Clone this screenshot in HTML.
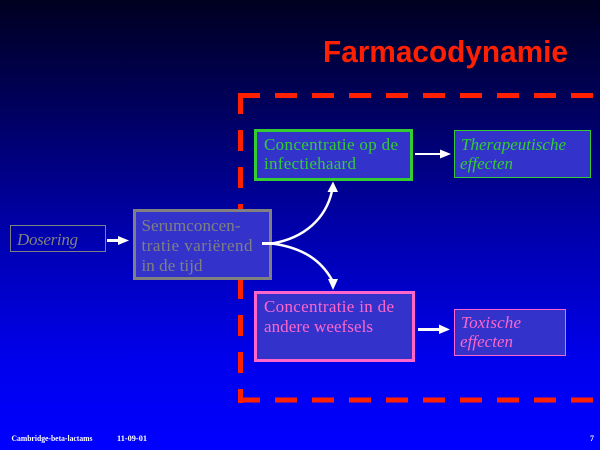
<!DOCTYPE html>
<html><head><meta charset="utf-8"><style>
html,body{margin:0;padding:0;width:600px;height:450px;overflow:hidden;background:#0000ff}
svg{display:block}
</style></head><body>
<svg width="600" height="450" viewBox="0 0 600 450" xmlns="http://www.w3.org/2000/svg">
<defs>
<linearGradient id="bg" x1="0" y1="0" x2="0" y2="1">
<stop offset="0" stop-color="#000020"/>
<stop offset="0.25" stop-color="#000060"/>
<stop offset="0.5" stop-color="#0000a8"/>
<stop offset="0.8" stop-color="#0000ec"/>
<stop offset="1" stop-color="#0000ff"/>
</linearGradient>
</defs>
<rect x="0" y="0" width="600" height="450" fill="url(#bg)"/>

<!-- title -->
<text x="323" y="62" font-family="Liberation Sans, Arial, sans-serif" font-weight="bold" font-size="31" fill="#ff2000" textLength="245" lengthAdjust="spacingAndGlyphs">Farmacodynamie</text>

<!-- dashed frame -->
<g stroke="#ff2000" stroke-width="5" fill="none">
<line x1="238" y1="95.5" x2="610" y2="95.5" stroke-dasharray="22 15"/>
<line x1="240.5" y1="93" x2="240.5" y2="403" stroke-dasharray="21 16"/>
<line x1="238" y1="400" x2="610" y2="400" stroke-dasharray="22 15"/>
</g>

<!-- Dosering -->
<rect x="10.5" y="225.5" width="95" height="26" fill="none" stroke="#808080" stroke-width="1"/>
<text x="17" y="245" font-family="Liberation Serif, Times New Roman, serif" font-style="italic" font-size="17" fill="#808080" textLength="61" lengthAdjust="spacing">Dosering</text>

<!-- arrow dosering -> serum -->
<rect x="107" y="239" width="12" height="3" fill="#fff"/>
<polygon points="118,236 129,240.5 118,245" fill="#fff"/>

<!-- Serum box -->
<rect x="134.5" y="210.5" width="136" height="68" fill="#3333cc" stroke="#808080" stroke-width="3"/>
<g font-family="Liberation Serif, Times New Roman, serif" font-size="17" fill="#808080">
<text x="141.5" y="231" textLength="99" lengthAdjust="spacing">Serumconcen-</text>
<text x="141.5" y="251" textLength="111" lengthAdjust="spacing">tratie variërend</text>
<text x="141.5" y="271" textLength="61" lengthAdjust="spacing">in de tijd</text>
</g>

<!-- Green box -->
<rect x="255.5" y="130.5" width="156" height="49" fill="#3333cc" stroke="#33cc33" stroke-width="3"/>
<g font-family="Liberation Serif, Times New Roman, serif" font-size="17" fill="#33cc33">
<text x="264" y="150" textLength="134" lengthAdjust="spacing">Concentratie op de</text>
<text x="264" y="169" textLength="92" lengthAdjust="spacing">infectiehaard</text>
</g>

<!-- arrow -> therapeutische -->
<rect x="415" y="153" width="26" height="2" fill="#fff"/>
<polygon points="440,149.5 451,154 440,158.5" fill="#fff"/>

<!-- Therapeutische box -->
<rect x="454.5" y="130.5" width="136" height="47" fill="#3333cc" stroke="#33cc33" stroke-width="1"/>
<g font-family="Liberation Serif, Times New Roman, serif" font-style="italic" font-size="17" fill="#33cc33">
<text x="461" y="150" textLength="105" lengthAdjust="spacing">Therapeutische</text>
<text x="460" y="169" textLength="53" lengthAdjust="spacing">effecten</text>
</g>

<!-- Pink box -->
<rect x="255.5" y="292.5" width="158" height="68" fill="#3333cc" stroke="#ff66cc" stroke-width="3"/>
<g font-family="Liberation Serif, Times New Roman, serif" font-size="17" fill="#ff66cc">
<text x="264" y="312" textLength="130" lengthAdjust="spacing">Concentratie in de</text>
<text x="264" y="332" textLength="109" lengthAdjust="spacing">andere weefsels</text>
</g>

<!-- arrow -> toxische -->
<rect x="418" y="328" width="22" height="3" fill="#fff"/>
<polygon points="439,324.5 450,329.5 439,334" fill="#fff"/>

<!-- Toxische box -->
<rect x="454.5" y="309.5" width="111" height="46" fill="#3333cc" stroke="#ff66cc" stroke-width="1"/>
<g font-family="Liberation Serif, Times New Roman, serif" font-style="italic" font-size="17" fill="#ff66cc">
<text x="461" y="328" textLength="60" lengthAdjust="spacing">Toxische</text>
<text x="460" y="347" textLength="53" lengthAdjust="spacing">effecten</text>
</g>

<!-- curved arrows -->
<rect x="262" y="242" width="14" height="3" fill="#fff"/>
<path d="M272,243.5 C305,238 326,218 332,191" fill="none" stroke="#fff" stroke-width="2.5"/>
<polygon points="327.5,192 333,181.5 338,192" fill="#fff"/>
<path d="M272,243.5 C305,248 322,262 332,280" fill="none" stroke="#fff" stroke-width="2.5"/>
<polygon points="328,279 338,279 333,290" fill="#fff"/>

<!-- footer -->
<g font-family="Liberation Serif, Times New Roman, serif" font-size="8" font-weight="bold" fill="#ffffff">
<text x="11.5" y="441" textLength="81" lengthAdjust="spacingAndGlyphs">Cambridge-beta-lactams</text>
<text x="117" y="441" textLength="30" lengthAdjust="spacingAndGlyphs">11-09-01</text>
<text x="590" y="441">7</text>
</g>
</svg>
</body></html>
